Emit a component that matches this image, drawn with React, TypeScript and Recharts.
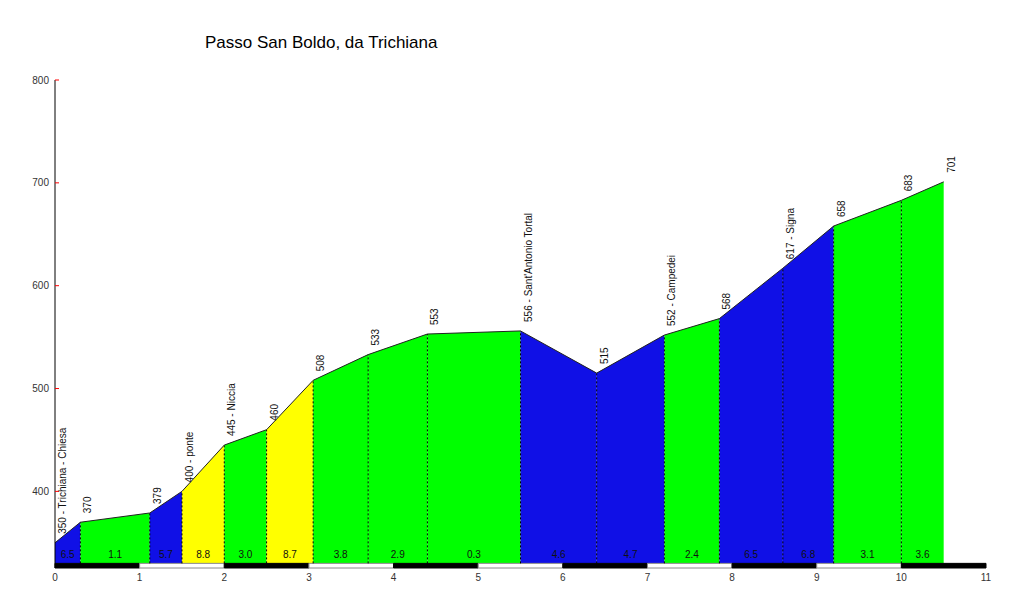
import React from "react";
import {
  ComposedChart,
  Area,
  Line,
  Scatter,
  XAxis,
  YAxis,
  ReferenceLine,
  ReferenceArea,
  LabelList,
} from "recharts";

// profile points: km from start, altitude (m), label above the point
const kms = [0, 0.3, 1.12, 1.5, 2.0, 2.5, 3.05, 3.7, 4.4, 5.5, 6.4, 7.2, 7.85, 8.6, 9.2, 10.0, 10.5];
const elevs = [350, 370, 379, 400, 445, 460, 508, 533, 553, 556, 515, 552, 568, 617, 658, 683, 701];
const names = [
  "350 - Trichiana - Chiesa",
  "370",
  "379",
  "400 - ponte",
  "445 - Niccia",
  "460",
  "508",
  "533",
  "553",
  "556 - Sant'Antonio Tortal",
  "515",
  "552 - Campedei",
  "568",
  "617 - Signa",
  "658",
  "683",
  "701",
];
// gradient (%) of each stretch, as printed at the bottom
const grades = ["6.5", "1.1", "5.7", "8.8", "3.0", "8.7", "3.8", "2.9", "0.3", "4.6", "4.7", "2.4", "6.5", "6.8", "3.1", "3.6"];

const yTicks = [400, 500, 600, 700, 800];
const xTicks = [0, 1, 2, 3, 4, 5, 6, 7, 8, 9, 10, 11];

const FLOOR = 330;
const STRIP_LOW = 325.5;
const TOP = 800;

const BLUE = "#1010e6";
const GREEN = "#00ff00";
const YELLOW = "#ffff00";

const gradeColor = (g: string) => {
  const v = parseFloat(g);
  if (v < 4) return GREEN;
  if (v < 8) return BLUE;
  return YELLOW;
};

const rows = kms.map((km, j) => {
  const row: any = { km, elev: elevs[j], label: names[j] };
  grades.forEach((_, i) => {
    row[`s${i}`] = j === i || j === i + 1 ? elevs[j] : null;
  });
  return row;
});

const gradeRows = grades.map((g, i) => ({
  km: (kms[i] + kms[i + 1]) / 2,
  base: FLOOR,
  g,
}));

const PointLabel = (props: any) => {
  const { x, y, value } = props;
  return (
    <text
      transform={`translate(${x + 11},${y - 9}) rotate(-90)`}
      fontSize={10}
      fill="#111"
      textAnchor="start"
    >
      {value}
    </text>
  );
};

const GradeText = (props: any) => {
  const { cx, cy, payload } = props;
  return (
    <text x={cx} y={cy - 5} fontSize={10} fill="#111" textAnchor="middle">
      {payload.g}
    </text>
  );
};

const YTick = (props: any) => {
  const { x, y, payload } = props;
  return (
    <g>
      <line x1={x + 6} x2={x + 10} y1={y} y2={y} stroke="#ff0000" />
      <text x={x} y={y} dy="0.355em" textAnchor="end" fontSize={10} fill="#333">
        {payload.value}
      </text>
    </g>
  );
};

const App = () => {
  return (
    <div
      style={{
        position: "absolute",
        left: 0,
        top: 0,
        width: 1024,
        height: 606,
        background: "#fff",
        fontFamily: "'Liberation Sans', Arial, sans-serif",
      }}
    >
      <div
        style={{
          position: "absolute",
          left: 205,
          top: 33,
          fontSize: 17,
          lineHeight: "20px",
          color: "#000",
        }}
      >
        Passo San Boldo, da Trichiana
      </div>
      <ComposedChart
        width={1024}
        height={606}
        data={rows}
        margin={{ top: 80, right: 38, bottom: 8, left: 5 }}
      >
        <XAxis
          dataKey="km"
          type="number"
          domain={[0, 11]}
          ticks={xTicks}
          axisLine={false}
          tickLine={false}
          tickMargin={0}
          height={30}
          fontSize={10}
          tick={{ fill: "#333" }}
          allowDataOverflow
        />
        <YAxis
          type="number"
          domain={[STRIP_LOW, TOP]}
          ticks={yTicks}
          width={50}
          tickLine={false}
          tickMargin={0}
          axisLine={{ stroke: "#000" }}
          tick={<YTick />}
          allowDataOverflow
        />
        {grades.map((g, i) => (
          <Area
            key={`s${i}`}
            dataKey={`s${i}`}
            type="linear"
            baseValue={FLOOR}
            fill={gradeColor(g)}
            fillOpacity={1}
            stroke="none"
            dot={false}
            activeDot={false}
            isAnimationActive={false}
          />
        ))}
        {kms.slice(1, -1).map((km, j) => (
          <ReferenceLine
            key={`d${j}`}
            segment={[
              { x: km, y: FLOOR },
              { x: km, y: elevs[j + 1] },
            ]}
            stroke="#000"
            strokeDasharray="2 2"
            strokeWidth={1}
          />
        ))}
        {xTicks.slice(0, -1).map((t) => (
          <ReferenceArea
            key={`k${t}`}
            x1={t}
            x2={t + 1}
            y1={STRIP_LOW}
            y2={FLOOR}
            fill={t % 2 === 0 ? "#000" : "#fff"}
            fillOpacity={1}
            stroke={t % 2 === 0 ? "#000" : "#888"}
            strokeWidth={1}
          />
        ))}
        <Line
          dataKey="elev"
          type="linear"
          stroke="#222"
          strokeWidth={1}
          dot={false}
          activeDot={false}
          isAnimationActive={false}
        >
          <LabelList dataKey="label" content={<PointLabel />} />
        </Line>
        <Scatter
          data={gradeRows}
          dataKey="base"
          shape={<GradeText />}
          isAnimationActive={false}
        />
      </ComposedChart>
    </div>
  );
};

export default App;
